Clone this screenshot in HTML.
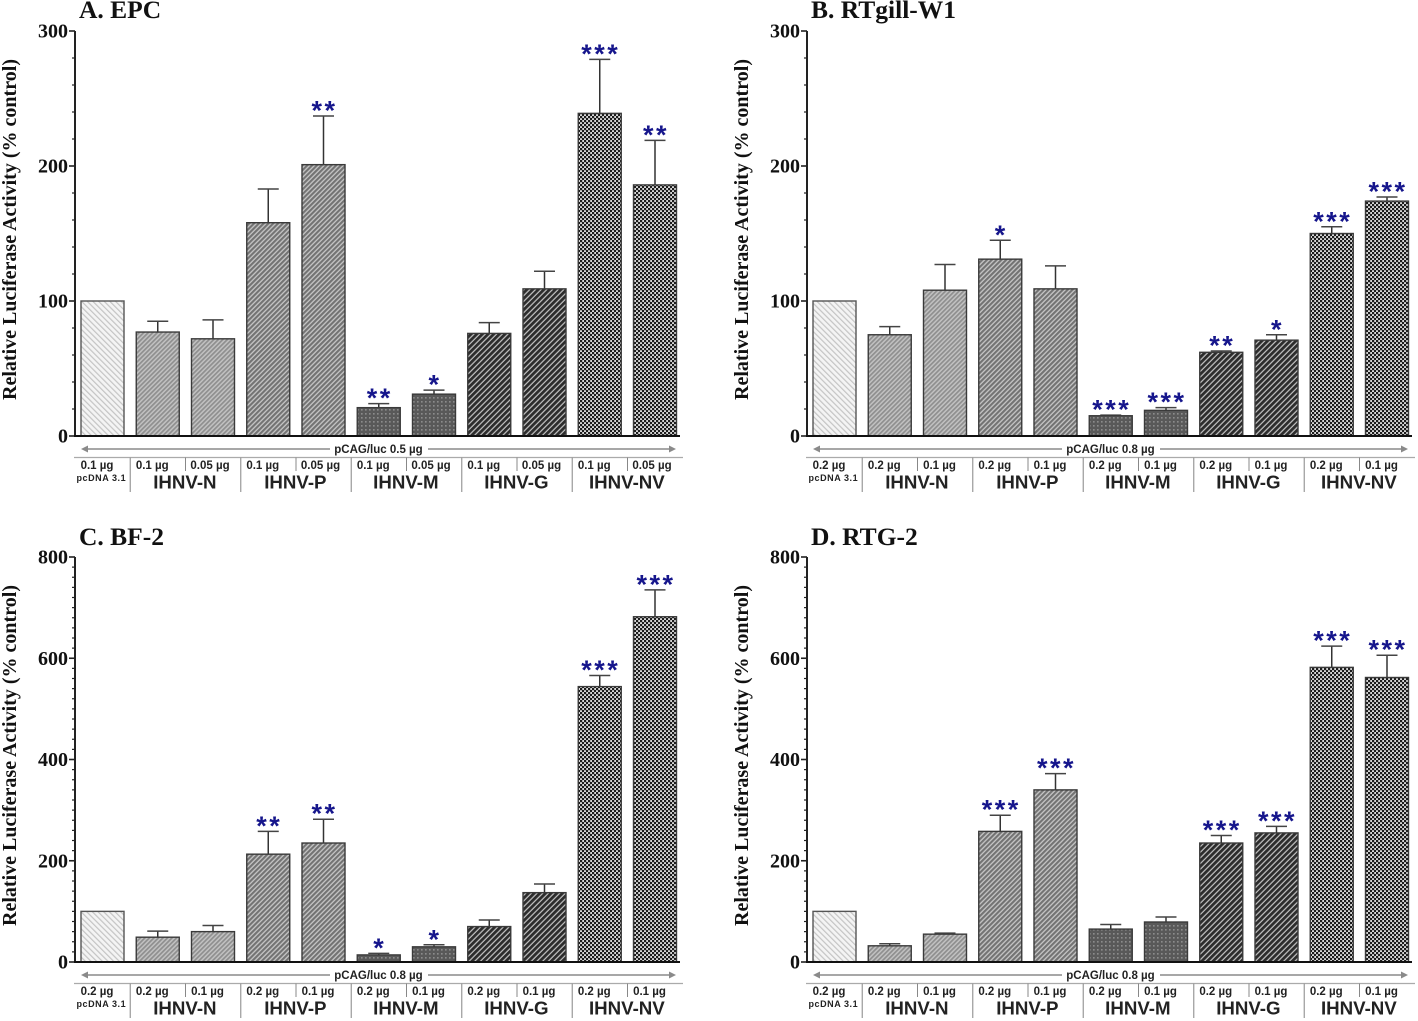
<!DOCTYPE html>
<html lang="en">
<head>
<meta charset="utf-8">
<title>Relative luciferase activity in four cell lines</title>
<style>
html,body{margin:0;padding:0;background:#fff;}
body{width:1418px;height:1021px;overflow:hidden;}
svg{display:block;filter:blur(0.35px);}
.serif{font-family:"Liberation Serif",serif;font-weight:bold;fill:#111;}
.sans{font-family:"Liberation Sans",sans-serif;font-weight:bold;fill:#222;}
</style>
</head>
<body>
<svg id="figure" xmlns="http://www.w3.org/2000/svg" width="1418" height="1021" viewBox="0 0 1418 1021">
<defs>
<pattern id="pat-control" width="4" height="4" patternUnits="userSpaceOnUse" patternTransform="rotate(-45)">
<rect width="4" height="4" fill="#f4f4f4"/><rect width="1.2" height="4" fill="#c4c4c4"/>
</pattern>
<pattern id="pat-n" width="3.2" height="3.2" patternUnits="userSpaceOnUse" patternTransform="rotate(45)">
<rect width="3.2" height="3.2" fill="#c2c2c2"/><rect width="1.7" height="3.2" fill="#8f8f8f"/>
</pattern>
<pattern id="pat-p" width="3.4" height="3.4" patternUnits="userSpaceOnUse" patternTransform="rotate(45)">
<rect width="3.4" height="3.4" fill="#c6c6c6"/><rect width="2.1" height="3.4" fill="#737373"/>
</pattern>
<pattern id="pat-m" width="4" height="4" patternUnits="userSpaceOnUse">
<rect width="4" height="4" fill="#595959"/><rect x="1.2" y="1.2" width="1.3" height="1.3" fill="#a8a8a8"/>
</pattern>
<pattern id="pat-g" width="4" height="4" patternUnits="userSpaceOnUse" patternTransform="rotate(45)">
<rect width="4" height="4" fill="#c4c4c4"/><rect width="2.8" height="4" fill="#2c2c2c"/>
</pattern>
<pattern id="pat-nv" width="4" height="4" patternUnits="userSpaceOnUse">
<rect width="4" height="4" fill="#d6d6d6"/><rect width="2.2" height="2.2" fill="#1c1c1c"/><rect x="2" y="2" width="2.2" height="2.2" fill="#1c1c1c"/>
</pattern>
</defs>
</svg>
<script>
// Chart data
var groupNames = ['IHNV-N', 'IHNV-P', 'IHNV-M', 'IHNV-G', 'IHNV-NV'];
var barGroups = ['control', 'n', 'n', 'p', 'p', 'm', 'm', 'g', 'g', 'nv', 'nv'];

var epcValues = [100, 77, 72, 158, 201, 21, 31, 76, 109, 239, 186];
var epcErrorTops = [100, 85, 86, 183, 237, 24, 34, 84, 122, 279, 219];
var epcStars = ['', '', '', '', '**', '**', '*', '', '', '***', '**'];
var epcDoses = ['0.1 µg', '0.1 µg', '0.05 µg', '0.1 µg', '0.05 µg', '0.1 µg', '0.05 µg', '0.1 µg', '0.05 µg', '0.1 µg', '0.05 µg'];

var rtgillValues = [100, 75, 108, 131, 109, 15, 19, 62, 71, 150, 174];
var rtgillErrorTops = [100, 81, 127, 145, 126, 15.5, 21, 63, 75, 155, 177];
var rtgillStars = ['', '', '', '*', '', '***', '***', '**', '*', '***', '***'];

var bf2Values = [100, 49, 60, 213, 235, 14, 30, 70, 137, 544, 682];
var bf2ErrorTops = [100, 61, 72, 258, 282, 17, 34, 83, 154, 566, 735];
var bf2Stars = ['', '', '', '**', '**', '*', '*', '', '', '***', '***'];

var rtg2Values = [100, 32, 55, 258, 340, 65, 79, 235, 255, 582, 562];
var rtg2ErrorTops = [100, 36, 57, 290, 372, 74, 89, 250, 268, 624, 606];
var rtg2Stars = ['', '', '', '***', '***', '', '', '***', '***', '***', '***'];

var highDoses = ['0.2 µg', '0.2 µg', '0.1 µg', '0.2 µg', '0.1 µg', '0.2 µg', '0.1 µg', '0.2 µg', '0.1 µg', '0.2 µg', '0.1 µg'];
var ticksLow = [0, 100, 200, 300];
var ticksHigh = [0, 200, 400, 600, 800];

var panels = [
  {key: 'a', title: 'A. EPC', left: 0, top: 0, yMax: 300, ticks: ticksLow, values: epcValues, errs: epcErrorTops, stars: epcStars, doses: epcDoses, arrow: 'pCAG/luc 0.5 µg'},
  {key: 'b', title: 'B. RTgill-W1', left: 732, top: 0, yMax: 300, ticks: ticksLow, values: rtgillValues, errs: rtgillErrorTops, stars: rtgillStars, doses: highDoses, arrow: 'pCAG/luc 0.8 µg'},
  {key: 'c', title: 'C. BF-2', left: 0, top: 526, yMax: 800, ticks: ticksHigh, values: bf2Values, errs: bf2ErrorTops, stars: bf2Stars, doses: highDoses, arrow: 'pCAG/luc 0.8 µg'},
  {key: 'd', title: 'D. RTG-2', left: 732, top: 526, yMax: 800, ticks: ticksHigh, values: rtg2Values, errs: rtg2ErrorTops, stars: rtg2Stars, doses: highDoses, arrow: 'pCAG/luc 0.8 µg'}
];

var svg = document.getElementById('figure');
var NS = 'http://www.w3.org/2000/svg';

function make(tag, attrs, parent, text) {
  var node = document.createElementNS(NS, tag);
  for (var k in attrs) node.setAttribute(k, attrs[k]);
  if (text !== undefined) node.textContent = text;
  parent.appendChild(node);
  return node;
}

function drawPanel(p) {
  var yScale = function (v) { return p.top + 436 - v * 405 / p.yMax; };
  var xScale = function (i) { return p.left + 102.5 + i * 55.25; };
  var axisX = p.left + 75;
  var baseY = yScale(0);
  var el;

  var g = make('g', {}, svg);
  
  

  el = make('text', {x: p.left + 79, y: p.top + (p.top ? 19 : 18), 'font-size': 25.5, 'class': 'serif'}, g, p.title);
  
  

  el = make('text', {transform: 'translate(' + (p.left + 16) + ' ' + (p.top + 400) + ') rotate(-90)', 'font-size': 20, 'class': 'serif', textLength: 341, lengthAdjust: 'spacing'}, g, 'Relative Luciferase Activity (% control)');
  
  

  // bars and error bars
  p.values.forEach(function (v, i) {
    var cx = xScale(i);
    var top = yScale(v);
    var errTop = yScale(p.errs[i]);
    if (i > 0) {
      var stem = make('line', {x1: cx, x2: cx, y1: top, y2: errTop, stroke: '#333', 'stroke-width': 1.5}, g);
      
      
      var cap = make('line', {x1: cx - 10.5, x2: cx + 10.5, y1: errTop, y2: errTop, stroke: '#444', 'stroke-width': 1.5}, g);
      
      
    }
    var group = barGroups[i];
    var bar = make('rect', {x: cx - 21.5, y: top, width: 43, height: baseY - top, fill: 'url(#pat-' + group + ')', stroke: group === 'control' ? '#555' : '#3a3a3a', 'stroke-width': 1.4}, g);
    
    
    if (p.stars[i]) {
      var star = make('text', {x: cx + 1, y: errTop + 3.5, 'font-size': 27, 'text-anchor': 'middle', 'letter-spacing': 2.5, style: 'font-family:"Liberation Sans",sans-serif;font-weight:bold;fill:#16168c;'}, g, p.stars[i]);
      
      
    }
  });

  // y axis
  var axis = make('line', {x1: axisX, x2: axisX, y1: yScale(p.yMax), y2: baseY + 1, stroke: '#222', 'stroke-width': 2}, g);
  
  
  for (var m = 0; m <= p.yMax; m += 20) {
    var major = p.ticks.indexOf(m) >= 0;
    var tick = make('line', {x1: axisX - (major ? 6 : 3), x2: axisX, y1: yScale(m), y2: yScale(m), stroke: '#222', 'stroke-width': major ? 1.6 : 1.2}, g);
    
    
  }
  p.ticks.forEach(function (t) {
    var label = make('text', {x: axisX - 7, y: yScale(t) + 6.5, 'font-size': 20, 'text-anchor': 'end', 'class': 'serif'}, g, String(t));
    
    
  });

  // x axis
  var xAxis = make('line', {x1: axisX - 1, x2: p.left + 680, y1: baseY, y2: baseY, stroke: '#111', 'stroke-width': 2}, g);
  
  

  // dose arrow
  var arrowY = p.top + 449;
  var arrowLeft = make('line', {x1: p.left + 84, x2: p.left + 330, y1: arrowY, y2: arrowY, stroke: '#8a8a8a', 'stroke-width': 1.6}, g);
  
  
  var arrowRight = make('line', {x1: p.left + 428, x2: p.left + 672, y1: arrowY, y2: arrowY, stroke: '#8a8a8a', 'stroke-width': 1.6}, g);
  
  
  var headL = make('polygon', {points: (p.left + 81) + ',' + arrowY + ' ' + (p.left + 88) + ',' + (arrowY - 3.5) + ' ' + (p.left + 88) + ',' + (arrowY + 3.5), fill: '#8a8a8a'}, g);
  
  
  var headR = make('polygon', {points: (p.left + 676) + ',' + arrowY + ' ' + (p.left + 669) + ',' + (arrowY - 3.5) + ' ' + (p.left + 669) + ',' + (arrowY + 3.5), fill: '#8a8a8a'}, g);
  
  
  var arrowText = make('text', {x: p.left + 378.5, y: arrowY + 4, 'font-size': 11.5, 'text-anchor': 'middle', 'class': 'sans'}, g, p.arrow);
  
  

  // label table
  var rule = make('line', {x1: p.left + 74, x2: p.left + 683, y1: p.top + 457.5, y2: p.top + 457.5, stroke: '#aaa', 'stroke-width': 1.2}, g);
  
  

  p.doses.forEach(function (d, i) {
    var nudge = d.indexOf('0.05') === 0 ? -3 : -5.5;
    var dose = make('text', {x: xScale(i) + nudge, y: p.top + 469, 'font-size': 11.5, 'text-anchor': 'middle', 'class': 'sans'}, g, d);
    
    
    if (i > 0 && i % 2 === 0) {
      var sep = make('line', {x1: xScale(i) - 27.5, x2: xScale(i) - 27.5, y1: p.top + 457.5, y2: p.top + 471, stroke: '#888', 'stroke-width': 1}, g);
      
      
    }
  });

  var vector = make('text', {x: p.left + 76.5, y: p.top + 481, 'font-size': 9, 'letter-spacing': 0.55, 'class': 'sans'}, g, 'pcDNA 3.1');
  
  

  groupNames.forEach(function (name, j) {
    var center = (xScale(2 * j + 1) + xScale(2 * j + 2)) / 2;
    var sepX = xScale(2 * j + 1) - 27.5;
    var groupSep = make('line', {x1: sepX, x2: sepX, y1: p.top + 457.5, y2: p.top + 492, stroke: '#999', 'stroke-width': 1.2}, g);
    
    
    var groupLabel = make('text', {x: center - 0.5, y: p.top + 488.5, 'font-size': 18.7, 'text-anchor': 'middle', 'class': 'sans'}, g, name);
    
    
  });
}

panels.forEach(drawPanel);
</script>
</body>
</html>
